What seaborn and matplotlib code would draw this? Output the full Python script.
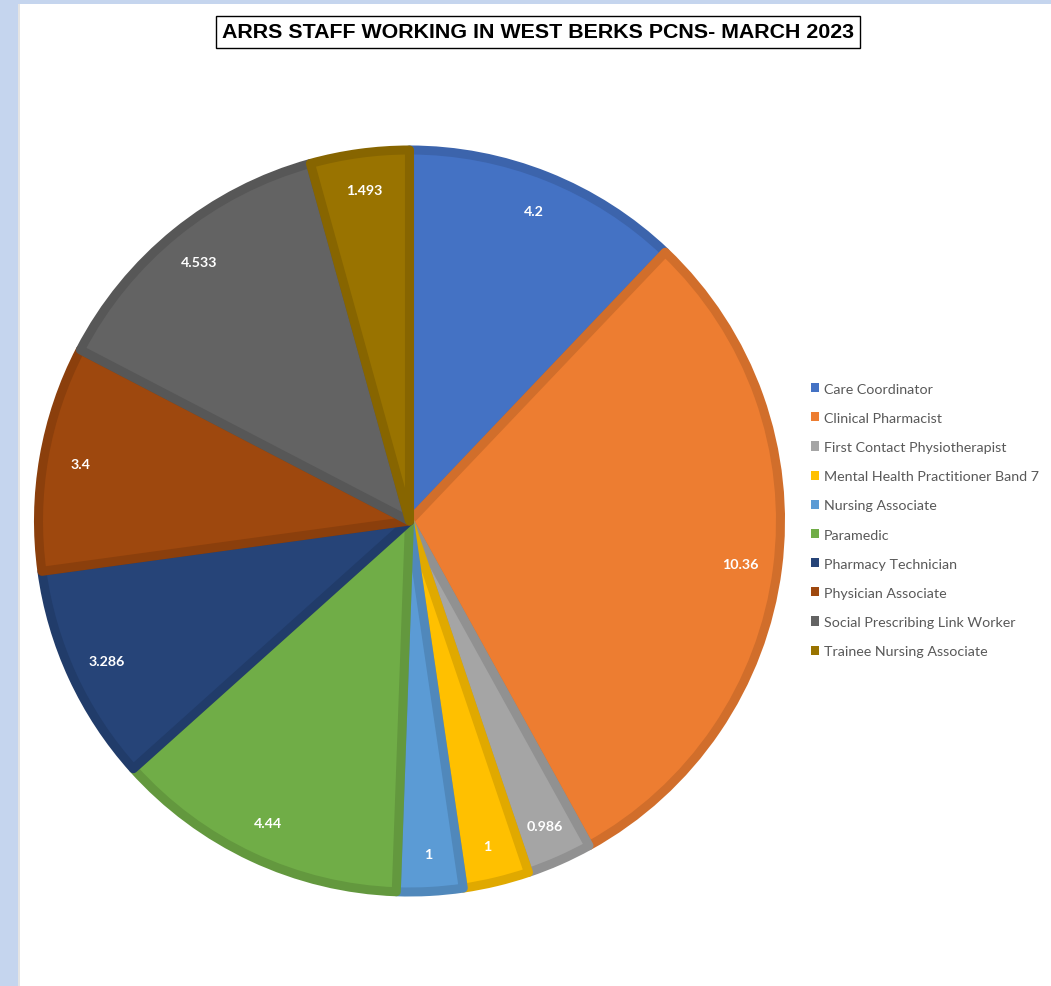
import matplotlib
matplotlib.use("Agg")
import matplotlib.pyplot as plt
import matplotlib.patches as mpatches
import matplotlib.colors as mcolors
import seaborn as sns

# Staff numbers per role
roles = [
    "Care Coordinator",
    "Clinical Pharmacist",
    "First Contact Physiotherapist",
    "Mental Health Practitioner Band 7",
    "Nursing Associate",
    "Paramedic",
    "Pharmacy Technician",
    "Physician Associate",
    "Social Prescribing Link Worker",
    "Trainee Nursing Associate",
]
staff = [4.2, 10.36, 0.986, 1, 1, 4.44, 3.286, 3.4, 4.533, 1.493]
value_labels = ["4.2", "10.36", "0.986", "1", "1", "4.44", "3.286", "3.4", "4.533", "1.493"]
palette = ["#4472C4", "#ED7D31", "#A5A5A5", "#FFC000", "#5B9BD5",
           "#70AD47", "#264478", "#9E480E", "#636363", "#997300"]

sns.set_theme(style="white")
plt.rcParams["font.family"] = ["Lato", "DejaVu Sans"]

W, H = 1051, 987
fig = plt.figure(figsize=(W / 100, H / 100), dpi=100)
fig.patch.set_facecolor("white")

# window frame strips
fig.add_artist(mpatches.Rectangle((0, 0), 18 / W, 1, transform=fig.transFigure,
                                  facecolor="#C5D5EE", edgecolor="none", zorder=0))
fig.add_artist(mpatches.Rectangle((18 / W, 0), 2 / W, 1 - 5 / H, transform=fig.transFigure,
                                  facecolor="#E4E4E4", edgecolor="none", zorder=0))
fig.add_artist(mpatches.Rectangle((0, 1 - 5 / H), 1, 5 / H, transform=fig.transFigure,
                                  facecolor="#C5D5EE", edgecolor="none", zorder=0))

cx, cy, r = 409.5, 522, 371
ax = fig.add_axes([(cx - r) / W, (H - cy - r) / H, 2 * r / W, 2 * r / H])

label_iter = iter(value_labels)
wedges, _, autotexts = ax.pie(
    staff,
    colors=palette,
    startangle=90,
    counterclock=False,
    autopct=lambda p: next(label_iter),
    pctdistance=0.9,
    textprops=dict(color="white", fontweight="bold", fontsize=10.3),
    wedgeprops=dict(linewidth=6.5),
)
for w, c in zip(wedges, palette):
    rgb = mcolors.to_rgb(c)
    w.set_edgecolor(tuple(v * 0.88 for v in rgb))
    w.set_joinstyle("round")
    w.set_clip_path(w)
ax.set_xlim(-1, 1)
ax.set_ylim(-1, 1)
ax.set_aspect("equal")
ax.axis("off")

# legend
handles = [mpatches.Patch(facecolor=c, edgecolor="none") for c in palette]
leg = fig.legend(handles, roles, loc="center left",
                 bbox_to_anchor=(805 / W, 1 - 521 / H), frameon=False,
                 fontsize=10.3, handlelength=0.6, handleheight=0.6,
                 handletextpad=0.3, labelspacing=1.2, borderaxespad=0)
for t in leg.get_texts():
    t.set_color("#595959")

fig.text(538 / W, 1 - 33 / H, "ARRS STAFF WORKING IN WEST BERKS PCNS- MARCH 2023",
         ha="center", va="center", fontsize=15.4, fontweight="bold", color="black",
         family=["Liberation Sans", "DejaVu Sans"],
         bbox=dict(boxstyle="square,pad=0.3", facecolor="white", edgecolor="black", linewidth=1))

fig.savefig("out.png", dpi=100)
